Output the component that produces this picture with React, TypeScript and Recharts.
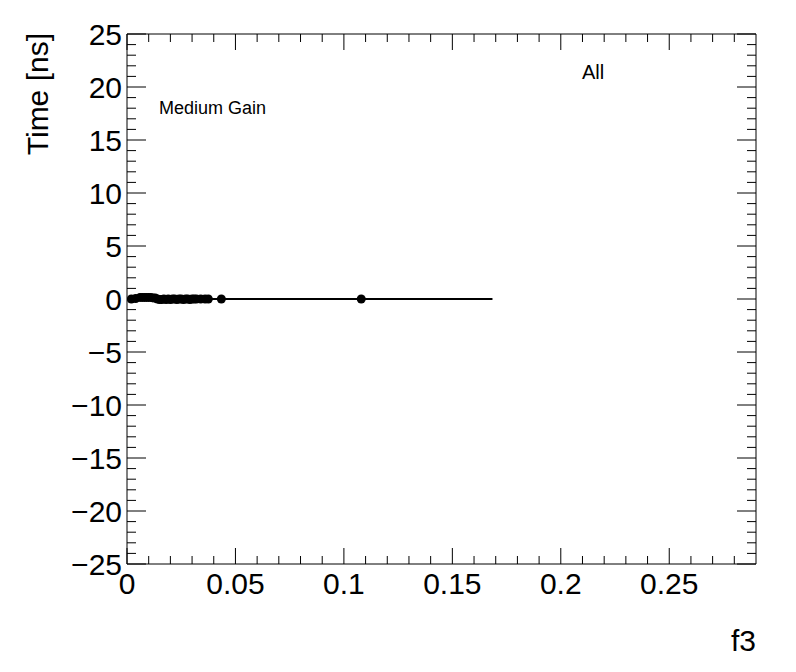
import React from "react";
import { ComposedChart, Scatter, Line, XAxis, YAxis } from "recharts";

// measured points: f3 vs time
const f3Values = [
  0.002, 0.004, 0.006, 0.007, 0.008, 0.009, 0.01, 0.011, 0.012, 0.013, 0.014, 0.015,
  0.016, 0.017, 0.018, 0.019, 0.02, 0.021, 0.022, 0.023, 0.024, 0.025, 0.026, 0.027,
  0.028, 0.029, 0.03, 0.031, 0.032, 0.034, 0.036, 0.0375, 0.0435, 0.108,
];
const timeValues = [
  0.0, 0.05, 0.15, 0.15, 0.15, 0.15, 0.15, 0.15, 0.1, 0.1, 0.0, -0.05,
  -0.05, 0.0, -0.05, 0.0, -0.05, 0.0, 0.0, -0.05, 0.0, 0.0, -0.05, 0.0,
  0.0, -0.05, 0.0, 0.0, 0.0, 0.0, 0.0, 0.0, 0.0, 0.0,
];

// fitted constant
const fitF3 = [0, 0.1685];
const fitTime = [0, 0];

const xDomain = [0, 0.29];
const yDomain = [-25, 25];
const xMajorTicks = [0, 0.05, 0.1, 0.15, 0.2, 0.25];
const yMajorTicks = [-25, -20, -15, -10, -5, 0, 5, 10, 15, 20, 25];

// minor ticks every 0.01 on x, every 1 on y
const xTicks = Array.from({ length: 29 }, (_, i) => i / 100);
const yTicks = Array.from({ length: 51 }, (_, i) => i - 25);

const FONT = "'Liberation Sans', Arial, Helvetica, sans-serif";

const points = f3Values.map((x, i) => ({ x, y: timeValues[i] }));
const fitLine = fitF3.map((x, i) => ({ x, y: fitTime[i] }));

const isMajorX = (v: number) => xMajorTicks.some((m) => Math.abs(m - v) < 1e-6);
const isMajorY = (v: number) => yMajorTicks.includes(v);
const fmtX = (v: number) => String(Math.round(v * 100) / 100);
const fmtY = (v: number) => (v < 0 ? "\u2212" + Math.abs(v) : String(v));

function BottomTick({ x, y, payload }: any) {
  const major = isMajorX(payload.value);
  return (
    <g>
      <line x1={x} x2={x} y1={y} y2={y - (major ? 16 : 8)} stroke="#000" strokeWidth={1} />
      {major && (
        <text x={x} y={y + 30} textAnchor="middle" fontSize={30} fontFamily={FONT} fill="#000">
          {fmtX(payload.value)}
        </text>
      )}
    </g>
  );
}

function TopTick({ x, y, payload }: any) {
  const major = isMajorX(payload.value);
  return <line x1={x} x2={x} y1={y} y2={y + (major ? 16 : 8)} stroke="#000" strokeWidth={1} />;
}

function LeftTick({ x, y, payload }: any) {
  const major = isMajorY(payload.value);
  return (
    <g>
      <line x1={x} x2={x + (major ? 19 : 9)} y1={y} y2={y} stroke="#000" strokeWidth={1} />
      {major && (
        <text x={x - 5} y={y + 11} textAnchor="end" fontSize={30} fontFamily={FONT} fill="#000">
          {fmtY(payload.value)}
        </text>
      )}
    </g>
  );
}

function RightTick({ x, y, payload }: any) {
  const major = isMajorY(payload.value);
  return <line x1={x} x2={x - (major ? 19 : 9)} y1={y} y2={y} stroke="#000" strokeWidth={1} />;
}

const Dot = (props: any) => <circle cx={props.cx} cy={props.cy} r={4.5} fill="#000" />;

export default function App() {
  return (
    <div style={{ position: "absolute", left: 0, top: 0, width: 796, height: 672, background: "#fff" }}>
      <ComposedChart width={796} height={672} margin={{ top: 0, right: 0, bottom: 0, left: 0 }}>
        <XAxis
          xAxisId="b"
          type="number"
          dataKey="x"
          domain={xDomain}
          allowDataOverflow
          ticks={xTicks}
          interval={0}
          height={108}
          tickSize={0}
          tickMargin={0}
          tickLine={false}
          tick={<BottomTick />}
          axisLine={{ stroke: "#000", strokeWidth: 1 }}
        />
        <XAxis
          xAxisId="t"
          orientation="top"
          type="number"
          dataKey="x"
          domain={xDomain}
          allowDataOverflow
          ticks={xTicks}
          interval={0}
          height={34}
          tickSize={0}
          tickMargin={0}
          tickLine={false}
          tick={<TopTick />}
          axisLine={{ stroke: "#000", strokeWidth: 1 }}
        />
        <YAxis
          yAxisId="l"
          type="number"
          domain={yDomain}
          allowDataOverflow
          ticks={yTicks}
          interval={0}
          width={127}
          tickSize={0}
          tickMargin={0}
          tickLine={false}
          tick={<LeftTick />}
          axisLine={{ stroke: "#000", strokeWidth: 1 }}
        />
        <YAxis
          yAxisId="r"
          orientation="right"
          type="number"
          domain={yDomain}
          allowDataOverflow
          ticks={yTicks}
          interval={0}
          width={40}
          tickSize={0}
          tickMargin={0}
          tickLine={false}
          tick={<RightTick />}
          axisLine={{ stroke: "#000", strokeWidth: 1 }}
        />
        <Line
          xAxisId="b"
          yAxisId="l"
          data={fitLine}
          dataKey="y"
          stroke="#000"
          strokeWidth={2}
          dot={false}
          activeDot={false}
          isAnimationActive={false}
        />
        <Scatter
          xAxisId="b"
          yAxisId="l"
          data={points}
          dataKey="y"
          shape={<Dot />}
          isAnimationActive={false}
        />
      </ComposedChart>
      <svg
        width={796}
        height={672}
        style={{ position: "absolute", left: 0, top: 0, pointerEvents: "none" }}
      >
        <text
          transform="translate(48,33) rotate(-90)"
          textAnchor="end"
          fontSize={30}
          fontFamily={FONT}
          fill="#000"
        >
          Time [ns]
        </text>
        <text x={756} y={651} textAnchor="end" fontSize={30} fontFamily={FONT} fill="#000">
          f3
        </text>
        <text x={159} y={114} fontSize={18} fontFamily={FONT} fill="#000">
          Medium Gain
        </text>
        <text x={582} y={79} fontSize={20} fontFamily={FONT} fill="#000">
          All
        </text>
      </svg>
    </div>
  );
}
